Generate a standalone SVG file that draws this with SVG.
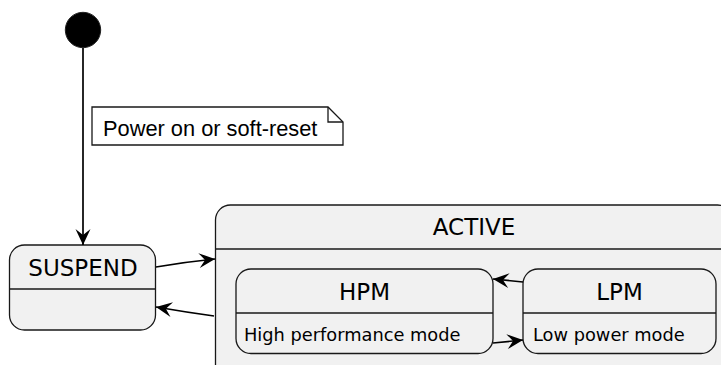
<svg xmlns="http://www.w3.org/2000/svg" width="721" height="365" viewBox="0 0 721 365">
<style>
.st{fill:#F1F1F1;stroke:#181818;stroke-width:1.3}
.div{stroke:#181818;stroke-width:1.3}
.title{font-family:"DejaVu Sans",sans-serif;font-size:23px;fill:#000;text-anchor:middle}
.body{font-family:"DejaVu Sans",sans-serif;font-size:17.8px;fill:#000}
.note{font-family:"Liberation Sans",Arial,sans-serif;font-size:21.8px;fill:#000}
.conn{fill:none;stroke:#000;stroke-width:1.7}
</style>
<defs>
<marker id="arr" markerUnits="userSpaceOnUse" viewBox="-18 -9 19 18" markerWidth="19" markerHeight="18" refX="0" refY="0" orient="auto" overflow="visible">
<path d="M0,0 L-16,-7.5 L-10,0 L-16,7.5 Z" fill="#000"/>
</marker>
</defs>
<g id="start">
<circle cx="83" cy="30" r="17.7" fill="#000" stroke="#222" stroke-width="1"/>
</g>
<g id="note">
<path d="M92,107 L328,107 L343,122 L343,145 L92,145 Z" fill="#FFFFFF" stroke="#181818" stroke-width="1.3"/>
<path d="M328,107 L328,122 L343,122" fill="none" stroke="#181818" stroke-width="1.3"/>
<text class="note" x="103" y="136">Power on or soft-reset</text>
</g>
<g id="SUSPEND">
<rect class="st" x="9.5" y="245" width="146" height="85" rx="15" ry="15"/>
<line class="div" x1="9.5" y1="289" x2="155.5" y2="289"/>
<text class="title" x="83" y="276">SUSPEND</text>
</g>
<g id="ACTIVE">
<rect class="st" x="215.5" y="205" width="517" height="180" rx="15" ry="15"/>
<line class="div" x1="215.5" y1="249" x2="732.5" y2="249"/>
<text class="title" x="474" y="235">ACTIVE</text>
</g>
<g id="HPM">
<rect class="st" x="236" y="269" width="257" height="84.5" rx="15" ry="15"/>
<line class="div" x1="236" y1="313" x2="493" y2="313"/>
<text class="title" x="364.5" y="300">HPM</text>
<text class="body" x="244" y="341">High performance mode</text>
</g>
<g id="LPM">
<rect class="st" x="523" y="269" width="193" height="84.5" rx="15" ry="15"/>
<line class="div" x1="523" y1="313" x2="716" y2="313"/>
<text class="title" x="619.5" y="300">LPM</text>
<text class="body" x="533" y="341">Low power mode</text>
</g>
<g id="connectors">
<path class="conn" d="M83,48 L83,245" marker-end="url(#arr)"/>
<path class="conn" d="M156,267 Q185,262 215,259" marker-end="url(#arr)"/>
<path class="conn" d="M214,316 Q185,312 156,307" marker-end="url(#arr)"/>
<path class="conn" d="M523,282 L493,279" marker-end="url(#arr)"/>
<path class="conn" d="M493,343 L523,340" marker-end="url(#arr)"/>
</g>
</svg>
